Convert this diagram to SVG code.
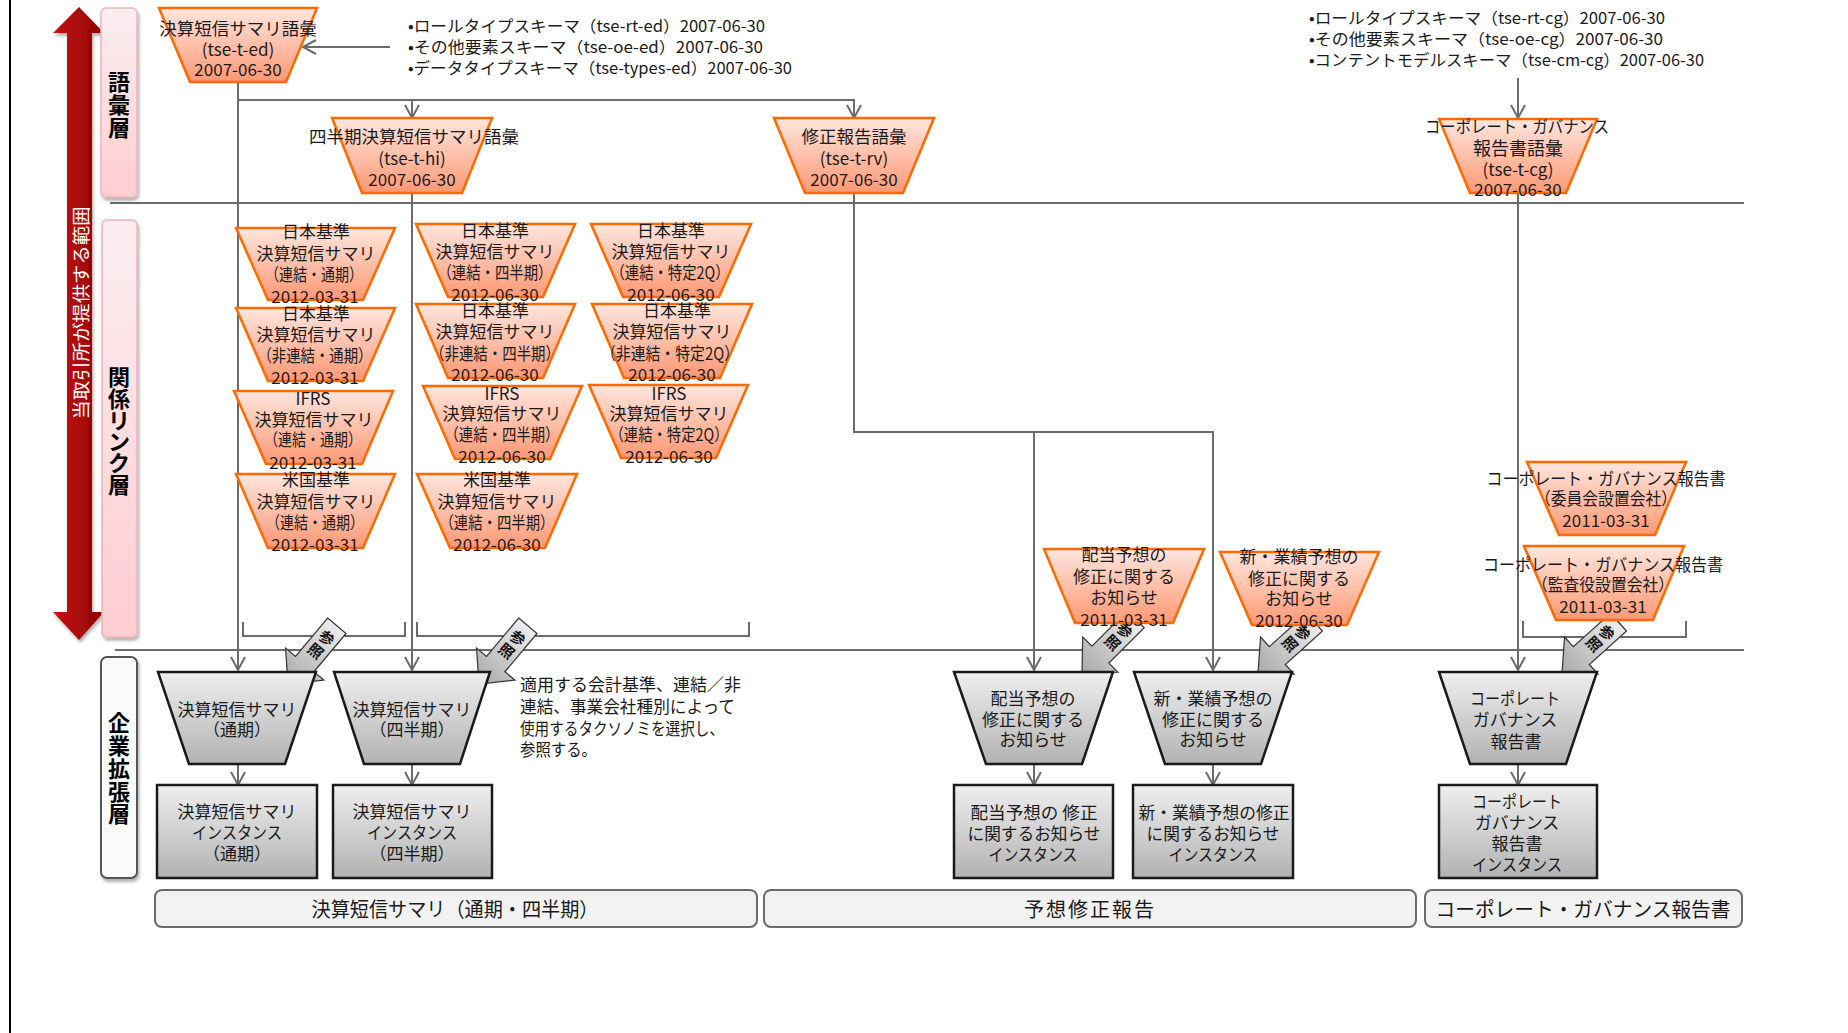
<svg xmlns="http://www.w3.org/2000/svg" width="1848" height="1033" viewBox="0 0 1848 1033">
<defs>
<style>
.t{font-family:"Noto Sans CJK JP","Noto Sans CJK SC",sans-serif;font-size:17px;fill:#1a1a1a;text-anchor:middle;dominant-baseline:central}
.s{text-anchor:start}
.b16{font-size:16px}
.bar{font-size:20px}
.lay{font-size:22px;font-weight:700;fill:#000}
.ref{font-size:15px;font-weight:700;fill:#111}
.org{fill:url(#gOrg);stroke:#ff6a00;stroke-width:2.5}
.gry{fill:url(#gGry);stroke:#1a1a1a;stroke-width:2.5}
.ln{stroke:#6b6b6b;stroke-width:2;fill:none}
.ar{marker-end:url(#ah)}
.refa{fill:url(#gRef);stroke:#333;stroke-width:1.2}
.pink{fill:url(#gPink);stroke:#f0b4bb;stroke-width:1.5}
.grp{fill:#f2f2f2;stroke:#6b6b6b;stroke-width:2}
</style>
<linearGradient id="gOrg" x1="0" y1="0" x2="0" y2="1"><stop offset="0" stop-color="#ffe6de"/><stop offset="1" stop-color="#ff9874"/></linearGradient>
<linearGradient id="gGry" x1="0" y1="0" x2="0" y2="1"><stop offset="0" stop-color="#efefef"/><stop offset="1" stop-color="#b2b2b2"/></linearGradient>
<linearGradient id="gRef" x1="0" y1="0" x2="0" y2="1"><stop offset="0" stop-color="#ececec"/><stop offset="1" stop-color="#a9a9a9"/></linearGradient>
<linearGradient id="gPink" x1="0" y1="0" x2="0" y2="1"><stop offset="0" stop-color="#fbeef0"/><stop offset="1" stop-color="#ffcdd1"/></linearGradient>
<linearGradient id="gRed" x1="0" y1="0" x2="1" y2="0"><stop offset="0" stop-color="#c81414"/><stop offset="1" stop-color="#8e0000"/></linearGradient>
<filter id="sh" x="-20%" y="-5%" width="140%" height="110%"><feDropShadow dx="1.5" dy="3" stdDeviation="1.5" flood-color="#000" flood-opacity="0.3"/></filter>
<marker id="ah" markerUnits="userSpaceOnUse" markerWidth="20" markerHeight="20" viewBox="-16 -10 20 20" refX="0" refY="0" orient="auto"><path d="M-13,-7 L0,0 L-13,7" fill="none" stroke="#6b6b6b" stroke-width="2"/></marker>
</defs>
<rect x="0" y="0" width="1848" height="1033" fill="#fff"/>
<line x1="10" y1="0" x2="10" y2="1033" stroke="#000" stroke-width="2"/>

<g id="scope-arrow">
<polygon points="79,7 104,33 92,33 92,612 104,612 79,640 53,612 67,612 67,33 53,33" fill="url(#gRed)" filter="url(#sh)"/>
<text class="t" x="80" y="313" transform="rotate(-90 80 313)" style="fill:#fff;font-size:18px" textLength="213" lengthAdjust="spacingAndGlyphs">当取引所が提供する範囲</text>
</g>

<g id="layer-vocab">
<rect class="pink" x="101" y="8" width="36" height="189" rx="5" filter="url(#sh)"/>
<text class="t lay" x="119" y="80">語</text><text class="t lay" x="119" y="103">彙</text><text class="t lay" x="119" y="126">層</text>
</g>
<g id="layer-link">
<rect class="pink" x="102" y="220" width="35" height="417" rx="5" filter="url(#sh)"/>
<text class="t lay" x="119" y="375">関</text><text class="t lay" x="119" y="397">係</text><text class="t lay" x="119" y="419">リ</text><text class="t lay" x="119" y="440">ン</text><text class="t lay" x="119" y="461">ク</text><text class="t lay" x="119" y="483">層</text>
</g>
<g id="layer-ext">
<rect x="101" y="657" width="36" height="221" rx="6" fill="#fafafa" stroke="#555" stroke-width="2" filter="url(#sh)"/>
<text class="t lay" x="119" y="721">企</text><text class="t lay" x="119" y="744">業</text><text class="t lay" x="119" y="767">拡</text><text class="t lay" x="119" y="790">張</text><text class="t lay" x="119" y="812">層</text>
</g>

<g id="dividers">
<line class="ln" x1="110" y1="203" x2="1744" y2="203"/>
<line class="ln" x1="115" y1="650" x2="1744" y2="650"/>
<path class="ln" d="M243,622 V636 H405 V622"/>
<path class="ln" d="M417,622 V636 H749 V622"/>
<path class="ln" d="M1523,621 V637 H1686 V621"/>
</g>

<g id="connectors">
<path class="ln ar" d="M390,47 H303"/>
<path class="ln ar" d="M238,82 V670"/>
<path class="ln ar" d="M238,100 H854 V118"/>
<path class="ln ar" d="M412,100 V118"/>
<path class="ln ar" d="M412,193 V670"/>
<path class="ln ar" d="M854,193 V432 H1213 V670"/>
<path class="ln ar" d="M1034,432 V670"/>
<path class="ln ar" d="M1518,78 V118"/>
<path class="ln ar" d="M1518,193 V670"/>
<path class="ln ar" d="M238,764 V785"/>
<path class="ln ar" d="M412,764 V785"/>
<path class="ln ar" d="M1034,764 V785"/>
<path class="ln ar" d="M1213,764 V785"/>
<path class="ln ar" d="M1518,764 V785"/>
<g transform="translate(288,684) rotate(40)"><polygon class="refa" points="-12,-76 12,-76 12,-26 25,-26 0,0 -25,-26 -12,-26"/><text class="t ref" x="0" y="-61">参</text><text class="t ref" x="0" y="-44">照</text></g>
<g transform="translate(479,684) rotate(40)"><polygon class="refa" points="-12,-76 12,-76 12,-26 25,-26 0,0 -25,-26 -12,-26"/><text class="t ref" x="0" y="-61">参</text><text class="t ref" x="0" y="-44">照</text></g>
<g transform="translate(1082,673) rotate(45)"><polygon class="refa" points="-12,-76 12,-76 12,-26 25,-26 0,0 -25,-26 -12,-26"/><text class="t ref" x="0" y="-61">参</text><text class="t ref" x="0" y="-44">照</text></g>
<g transform="translate(1258,673) rotate(48)"><polygon class="refa" points="-12,-76 12,-76 12,-26 25,-26 0,0 -25,-26 -12,-26"/><text class="t ref" x="0" y="-61">参</text><text class="t ref" x="0" y="-44">照</text></g>
<g transform="translate(1562,673) rotate(48)"><polygon class="refa" points="-12,-76 12,-76 12,-26 25,-26 0,0 -25,-26 -12,-26"/><text class="t ref" x="0" y="-61">参</text><text class="t ref" x="0" y="-44">照</text></g>
</g>

<g id="schema-notes">
<text class="t s b16" x="408" y="25" textLength="357" lengthAdjust="spacingAndGlyphs">•ロールタイプスキーマ（tse-rt-ed）2007-06-30</text>
<text class="t s b16" x="408" y="46" textLength="355" lengthAdjust="spacingAndGlyphs">•その他要素スキーマ（tse-oe-ed）2007-06-30</text>
<text class="t s b16" x="408" y="67" textLength="384" lengthAdjust="spacingAndGlyphs">•データタイプスキーマ（tse-types-ed）2007-06-30</text>
<text class="t s b16" x="1309" y="17" textLength="356" lengthAdjust="spacingAndGlyphs">•ロールタイプスキーマ（tse-rt-cg）2007-06-30</text>
<text class="t s b16" x="1309" y="38" textLength="354" lengthAdjust="spacingAndGlyphs">•その他要素スキーマ（tse-oe-cg）2007-06-30</text>
<text class="t s b16" x="1309" y="59" textLength="395" lengthAdjust="spacingAndGlyphs">•コンテントモデルスキーマ（tse-cm-cg）2007-06-30</text>
</g>

<g id="V1"><polygon class="org" points="159,8 317,8 286,82 190,82"/><text class="t" x="238" y="27" style="font-size:17.5px">決算短信サマリ語彙</text><text class="t" x="238" y="48">(tse-t-ed)</text><text class="t" x="238" y="68">2007-06-30</text></g>
<g id="V2"><polygon class="org" points="332,118 492,118 462,193 362,193"/><text class="t" x="414" y="135" style="font-size:17.5px">四半期決算短信サマリ語彙</text><text class="t" x="412" y="157">(tse-t-hi)</text><text class="t" x="412" y="178">2007-06-30</text></g>
<g id="V3"><polygon class="org" points="774,118 934,118 903,193 805,193"/><text class="t" x="854" y="135" style="font-size:17.5px">修正報告語彙</text><text class="t" x="854" y="157">(tse-t-rv)</text><text class="t" x="854" y="178">2007-06-30</text></g>
<g id="V4"><polygon class="org" points="1439,119 1597,119 1566,193 1470,193"/><text class="t" x="1517" y="125" textLength="184" lengthAdjust="spacingAndGlyphs">コーポレート・ガバナンス</text><text class="t" x="1518" y="147" style="font-size:18px">報告書語彙</text><text class="t" x="1518" y="168">(tse-t-cg)</text><text class="t" x="1518" y="188">2007-06-30</text></g>

<g id="A1"><polygon class="org" points="236,228 395,228 363,300 268,300"/><text class="t" x="316" y="230">日本基準</text><text class="t" x="316" y="252">決算短信サマリ</text><text class="t" x="314" y="273" textLength="98" lengthAdjust="spacingAndGlyphs">（連結・通期）</text><text class="t" x="315" y="295">2012-03-31</text></g>
<g id="A2"><polygon class="org" points="236,308 395,308 363,381 268,381"/><text class="t" x="316" y="312">日本基準</text><text class="t" x="316" y="333">決算短信サマリ</text><text class="t" x="315" y="354" textLength="115" lengthAdjust="spacingAndGlyphs">（非連結・通期）</text><text class="t" x="315" y="376">2012-03-31</text></g>
<g id="A3"><polygon class="org" points="234,391 393,391 362,464 266,464"/><text class="t" x="313" y="397">IFRS</text><text class="t" x="314" y="418">決算短信サマリ</text><text class="t" x="313" y="438" textLength="98" lengthAdjust="spacingAndGlyphs">（連結・通期）</text><text class="t" x="313" y="461">2012-03-31</text></g>
<g id="A4"><polygon class="org" points="236,474 395,474 363,548 268,548"/><text class="t" x="316" y="478">米国基準</text><text class="t" x="316" y="500">決算短信サマリ</text><text class="t" x="315" y="521" textLength="98" lengthAdjust="spacingAndGlyphs">（連結・通期）</text><text class="t" x="315" y="543">2012-03-31</text></g>

<g id="B1"><polygon class="org" points="416,224 575,224 543,297 448,297"/><text class="t" x="495" y="229">日本基準</text><text class="t" x="495" y="250">決算短信サマリ</text><text class="t" x="495" y="271" textLength="115" lengthAdjust="spacingAndGlyphs">（連結・四半期）</text><text class="t" x="495" y="293">2012-06-30</text></g>
<g id="B2"><polygon class="org" points="416,304 575,304 543,378 448,378"/><text class="t" x="495" y="309">日本基準</text><text class="t" x="495" y="330">決算短信サマリ</text><text class="t" x="495" y="352" textLength="130" lengthAdjust="spacingAndGlyphs">（非連結・四半期）</text><text class="t" x="495" y="373">2012-06-30</text></g>
<g id="B3"><polygon class="org" points="423,386 582,386 550,459 455,459"/><text class="t" x="502" y="392">IFRS</text><text class="t" x="502" y="412">決算短信サマリ</text><text class="t" x="502" y="433" textLength="115" lengthAdjust="spacingAndGlyphs">（連結・四半期）</text><text class="t" x="502" y="455">2012-06-30</text></g>
<g id="B4"><polygon class="org" points="417,474 577,474 545,548 450,548"/><text class="t" x="497" y="478">米国基準</text><text class="t" x="497" y="500">決算短信サマリ</text><text class="t" x="497" y="521" textLength="115" lengthAdjust="spacingAndGlyphs">（連結・四半期）</text><text class="t" x="497" y="543">2012-06-30</text></g>

<g id="C1"><polygon class="org" points="591,224 751,224 719,297 623,297"/><text class="t" x="671" y="229">日本基準</text><text class="t" x="671" y="250">決算短信サマリ</text><text class="t" x="670" y="271" textLength="119" lengthAdjust="spacingAndGlyphs">（連結・特定2Q）</text><text class="t" x="671" y="293">2012-06-30</text></g>
<g id="C2"><polygon class="org" points="592,304 752,304 720,378 624,378"/><text class="t" x="677" y="309">日本基準</text><text class="t" x="672" y="330">決算短信サマリ</text><text class="t" x="670" y="352" textLength="138" lengthAdjust="spacingAndGlyphs">（非連結・特定2Q）</text><text class="t" x="672" y="373">2012-06-30</text></g>
<g id="C3"><polygon class="org" points="589,385 748,385 716,458 621,458"/><text class="t" x="669" y="392">IFRS</text><text class="t" x="669" y="412">決算短信サマリ</text><text class="t" x="669" y="433" textLength="119" lengthAdjust="spacingAndGlyphs">（連結・特定2Q）</text><text class="t" x="669" y="455">2012-06-30</text></g>

<g id="D1"><polygon class="org" points="1044,549 1204,549 1173,623 1075,623"/><text class="t" x="1124" y="553">配当予想の</text><text class="t" x="1124" y="575">修正に関する</text><text class="t" x="1124" y="596">お知らせ</text><text class="t" x="1124" y="618">2011-03-31</text></g>
<g id="D2"><polygon class="org" points="1220,552 1379,552 1347,625 1252,625"/><text class="t" x="1299" y="555">新・業績予想の</text><text class="t" x="1299" y="577">修正に関する</text><text class="t" x="1299" y="597">お知らせ</text><text class="t" x="1299" y="619">2012-06-30</text></g>
<g id="E1"><polygon class="org" points="1527,462 1686,462 1655,535 1559,535"/><text class="t" x="1606" y="477" textLength="239" lengthAdjust="spacingAndGlyphs">コーポレート・ガバナンス報告書</text><text class="t" x="1606" y="497" textLength="142" lengthAdjust="spacingAndGlyphs">（委員会設置会社）</text><text class="t" x="1606" y="519">2011-03-31</text></g>
<g id="E2"><polygon class="org" points="1524,546 1684,546 1653,620 1556,620"/><text class="t" x="1603" y="563" textLength="240" lengthAdjust="spacingAndGlyphs">コーポレート・ガバナンス報告書</text><text class="t" x="1603" y="583" textLength="142" lengthAdjust="spacingAndGlyphs">（監査役設置会社）</text><text class="t" x="1603" y="605">2011-03-31</text></g>

<g id="G1"><polygon class="gry" points="158,672 316,672 285,764 189,764"/><text class="t" x="237" y="708">決算短信サマリ</text><text class="t" x="237" y="728">（通期）</text></g>
<g id="G2"><polygon class="gry" points="334,672 490,672 460,764 364,764"/><text class="t" x="412" y="708">決算短信サマリ</text><text class="t" x="412" y="728">（四半期）</text></g>
<g id="G3"><polygon class="gry" points="954,672 1113,672 1082,764 986,764"/><text class="t" x="1033" y="697">配当予想の</text><text class="t" x="1033" y="718">修正に関する</text><text class="t" x="1033" y="738">お知らせ</text></g>
<g id="G4"><polygon class="gry" points="1134,672 1292,672 1261,764 1165,764"/><text class="t" x="1213" y="697">新・業績予想の</text><text class="t" x="1213" y="718">修正に関する</text><text class="t" x="1213" y="738">お知らせ</text></g>
<g id="G5"><polygon class="gry" points="1439,672 1597,672 1566,764 1470,764"/><text class="t" x="1515" y="697" textLength="90" lengthAdjust="spacingAndGlyphs">コーポレート</text><text class="t" x="1515" y="718">ガバナンス</text><text class="t" x="1516" y="740">報告書</text></g>

<g id="H1"><rect class="gry" x="157" y="785" width="160" height="93"/><text class="t" x="237" y="810">決算短信サマリ</text><text class="t" x="237" y="831" textLength="90" lengthAdjust="spacingAndGlyphs">インスタンス</text><text class="t" x="237" y="852">（通期）</text></g>
<g id="H2"><rect class="gry" x="333" y="785" width="159" height="93"/><text class="t" x="412" y="810">決算短信サマリ</text><text class="t" x="412" y="831" textLength="90" lengthAdjust="spacingAndGlyphs">インスタンス</text><text class="t" x="412" y="852">（四半期）</text></g>
<g id="H3"><rect class="gry" x="954" y="785" width="159" height="93"/><text class="t" x="1034" y="811" textLength="127" lengthAdjust="spacingAndGlyphs">配当予想の 修正</text><text class="t" x="1034" y="832" textLength="133" lengthAdjust="spacingAndGlyphs">に関するお知らせ</text><text class="t" x="1033" y="853" textLength="89" lengthAdjust="spacingAndGlyphs">インスタンス</text></g>
<g id="H4"><rect class="gry" x="1133" y="785" width="160" height="93"/><text class="t" x="1214" y="811" textLength="151" lengthAdjust="spacingAndGlyphs">新・業績予想の修正</text><text class="t" x="1213" y="832" textLength="133" lengthAdjust="spacingAndGlyphs">に関するお知らせ</text><text class="t" x="1213" y="853" textLength="89" lengthAdjust="spacingAndGlyphs">インスタンス</text></g>
<g id="H5"><rect class="gry" x="1439" y="785" width="158" height="93"/><text class="t" x="1517" y="800" textLength="90" lengthAdjust="spacingAndGlyphs">コーポレート</text><text class="t" x="1517" y="821">ガバナンス</text><text class="t" x="1517" y="842">報告書</text><text class="t" x="1517" y="863" textLength="90" lengthAdjust="spacingAndGlyphs">インスタンス</text></g>

<g id="note">
<text class="t s" x="520" y="683">適用する会計基準、連結／非</text>
<text class="t s" x="520" y="705" textLength="215" lengthAdjust="spacingAndGlyphs">連結、事業会社種別によって</text>
<text class="t s" x="520" y="727" textLength="204" lengthAdjust="spacingAndGlyphs">使用するタクソノミを選択し、</text>
<text class="t s" x="520" y="748" textLength="77" lengthAdjust="spacingAndGlyphs">参照する。</text>
</g>

<g id="bar1"><rect class="grp" x="155" y="890" width="602" height="37" rx="7"/><text class="t bar" x="455" y="908" textLength="287" lengthAdjust="spacingAndGlyphs">決算短信サマリ（通期・四半期）</text></g>
<g id="bar2"><rect class="grp" x="764" y="890" width="652" height="37" rx="7"/><text class="t bar" x="1090" y="908" style="letter-spacing:2px">予想修正報告</text></g>
<g id="bar3"><rect class="grp" x="1425" y="890" width="317" height="37" rx="7"/><text class="t bar" x="1583" y="908" textLength="295" lengthAdjust="spacingAndGlyphs">コーポレート・ガバナンス報告書</text></g>
</svg>
